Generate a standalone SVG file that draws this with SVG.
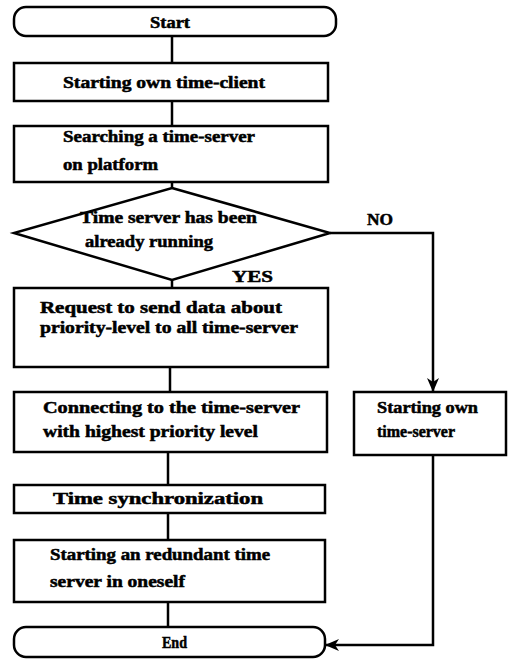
<svg xmlns="http://www.w3.org/2000/svg" width="509" height="659" viewBox="0 0 509 659">
<style>
.b{fill:#fff;stroke:#000;stroke-width:2.5}
.c{fill:none;stroke:#000;stroke-width:2.5}
text{font-family:"Liberation Serif","Times New Roman",serif;font-weight:bold;font-size:16px;fill:#000;stroke:#000;stroke-width:0.5}
</style>
<defs>
<marker id="ah" markerWidth="14" markerHeight="14" refX="13" refY="7" orient="auto" markerUnits="userSpaceOnUse">
<path d="M0,1 L14,7 L0,13 L4,7 Z" fill="#000"/>
</marker>
</defs>
<rect width="509" height="659" fill="#fff"/>
<g id="connectors">
<line class="c" x1="172" y1="36" x2="172" y2="63"/>
<line class="c" x1="172" y1="101" x2="172" y2="126"/>
<line class="c" x1="172" y1="182" x2="172" y2="188"/>
<line class="c" x1="172" y1="280" x2="172" y2="288"/>
<line class="c" x1="170" y1="367" x2="170" y2="392"/>
<line class="c" x1="168" y1="452" x2="168" y2="485"/>
<line class="c" x1="168" y1="513" x2="168" y2="540"/>
<line class="c" x1="168" y1="602" x2="168" y2="627"/>
<polyline class="c" points="330,233 433,233 433,391" marker-end="url(#ah)"/>
<polyline class="c" points="433,455 433,645 326,645" marker-end="url(#ah)"/>
<text x="367" y="225" textLength="26" lengthAdjust="spacingAndGlyphs">NO</text>
<text x="232" y="282" textLength="41" lengthAdjust="spacingAndGlyphs">YES</text>
</g>
<g id="start">
<rect class="b" x="14" y="7" width="322" height="29" rx="12"/>
<text x="150" y="28" textLength="40" lengthAdjust="spacingAndGlyphs">Start</text>
</g>
<g id="own-client">
<rect class="b" x="14" y="63" width="314" height="38"/>
<text x="63" y="88" textLength="202" lengthAdjust="spacingAndGlyphs">Starting own time-client</text>
</g>
<g id="searching">
<rect class="b" x="14" y="126" width="314" height="56"/>
<text x="63" y="142" textLength="192" lengthAdjust="spacingAndGlyphs">Searching a time-server</text>
<text x="63" y="170" textLength="95" lengthAdjust="spacingAndGlyphs">on platform</text>
</g>
<g id="decision">
<polygon class="b" points="172,188 330,233 172,280 14,233"/>
<text x="80" y="223" textLength="177" lengthAdjust="spacingAndGlyphs">Time server has been</text>
<text x="85" y="247" textLength="128" lengthAdjust="spacingAndGlyphs">already running</text>
</g>
<g id="request">
<rect class="b" x="14" y="288" width="314" height="79"/>
<text x="40" y="313" textLength="242" lengthAdjust="spacingAndGlyphs">Request to send data about</text>
<text x="40" y="333" textLength="258" lengthAdjust="spacingAndGlyphs">priority-level to all time-server</text>
</g>
<g id="connecting">
<rect class="b" x="14" y="392" width="313" height="60"/>
<text x="43" y="413" textLength="257" lengthAdjust="spacingAndGlyphs">Connecting to the time-server</text>
<text x="43" y="437" textLength="215" lengthAdjust="spacingAndGlyphs">with highest priority level</text>
</g>
<g id="own-server">
<rect class="b" x="354" y="392" width="152" height="63"/>
<text x="377" y="413" textLength="101" lengthAdjust="spacingAndGlyphs">Starting own</text>
<text x="377" y="437" textLength="78" lengthAdjust="spacingAndGlyphs">time-server</text>
</g>
<g id="sync">
<rect class="b" x="14" y="485" width="311" height="28"/>
<text x="53" y="504" textLength="210" lengthAdjust="spacingAndGlyphs">Time synchronization</text>
</g>
<g id="redundant">
<rect class="b" x="14" y="540" width="311" height="62"/>
<text x="50" y="560" textLength="220" lengthAdjust="spacingAndGlyphs">Starting an redundant time</text>
<text x="50" y="587" textLength="135" lengthAdjust="spacingAndGlyphs">server in oneself</text>
</g>
<g id="end">
<rect class="b" x="14" y="627" width="311" height="30" rx="12"/>
<text x="162" y="648" textLength="25" lengthAdjust="spacingAndGlyphs">End</text>
</g>
</svg>
